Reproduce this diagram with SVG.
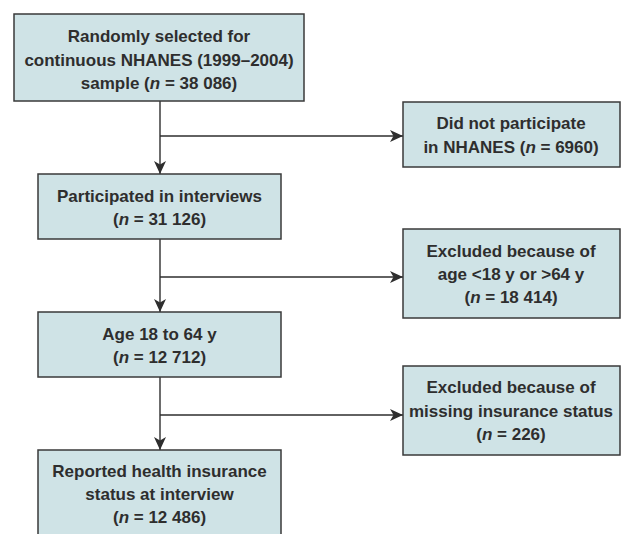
<svg xmlns="http://www.w3.org/2000/svg" width="621" height="534" viewBox="0 0 621 534">
<defs>
<style>
.box{fill:#cfe3e6;stroke:#3a3a3a;stroke-width:1.5}
.t{font-family:"Liberation Sans",Arial,sans-serif;font-weight:bold;font-size:17px;fill:#2e2e2e;text-anchor:middle}
.c{fill:none;stroke:#2e2e2e;stroke-width:1.4}
</style>
<marker id="ah" viewBox="0 0 13 12" refX="13" refY="6" markerWidth="13" markerHeight="12" markerUnits="userSpaceOnUse" orient="auto">
<path d="M0,0 L13,6 L0,12 L3.5,6 Z" fill="#2e2e2e"/>
</marker>
</defs>
<rect width="621" height="534" fill="#ffffff"/>
<g id="connectors">
<line class="c" x1="160" y1="101" x2="160" y2="174" marker-end="url(#ah)"/>
<line class="c" x1="160" y1="136" x2="403" y2="136" marker-end="url(#ah)"/>
<line class="c" x1="160" y1="239" x2="160" y2="312" marker-end="url(#ah)"/>
<line class="c" x1="160" y1="277" x2="403" y2="277" marker-end="url(#ah)"/>
<line class="c" x1="160" y1="377" x2="160" y2="450" marker-end="url(#ah)"/>
<line class="c" x1="160" y1="415" x2="403" y2="415" marker-end="url(#ah)"/>
</g>
<g id="n1">
<rect class="box" x="14" y="14" width="290" height="87"/>
<text class="t" x="159" y="42">Randomly selected for</text>
<text class="t" x="159" y="66">continuous NHANES (1999–2004)</text>
<text class="t" x="159" y="89">sample (<tspan font-style="italic">n</tspan> = 38 086)</text>
</g>
<g id="n2">
<rect class="box" x="403" y="102" width="217" height="65"/>
<text class="t" x="511" y="129">Did not participate</text>
<text class="t" x="511" y="153">in NHANES (<tspan font-style="italic">n</tspan> = 6960)</text>
</g>
<g id="n3">
<rect class="box" x="38" y="174" width="243" height="65"/>
<text class="t" x="159.5" y="202">Participated in interviews</text>
<text class="t" x="159.5" y="225">(<tspan font-style="italic">n</tspan> = 31 126)</text>
</g>
<g id="n4">
<rect class="box" x="403" y="229" width="217" height="89"/>
<text class="t" x="511" y="257">Excluded because of</text>
<text class="t" x="511" y="280">age &lt;18 y or &gt;64 y</text>
<text class="t" x="511" y="303">(<tspan font-style="italic">n</tspan> = 18 414)</text>
</g>
<g id="n5">
<rect class="box" x="38" y="312" width="243" height="65"/>
<text class="t" x="159.5" y="340">Age 18 to 64 y</text>
<text class="t" x="159.5" y="363">(<tspan font-style="italic">n</tspan> = 12 712)</text>
</g>
<g id="n6">
<rect class="box" x="403" y="366" width="217" height="89"/>
<text class="t" x="511" y="393">Excluded because of</text>
<text class="t" x="511" y="417">missing insurance status</text>
<text class="t" x="511" y="440">(<tspan font-style="italic">n</tspan> = 226)</text>
</g>
<g id="n7">
<rect class="box" x="38" y="450" width="243" height="100"/>
<text class="t" x="159.5" y="477">Reported health insurance</text>
<text class="t" x="159.5" y="500">status at interview</text>
<text class="t" x="159.5" y="523">(<tspan font-style="italic">n</tspan> = 12 486)</text>
</g>
</svg>
